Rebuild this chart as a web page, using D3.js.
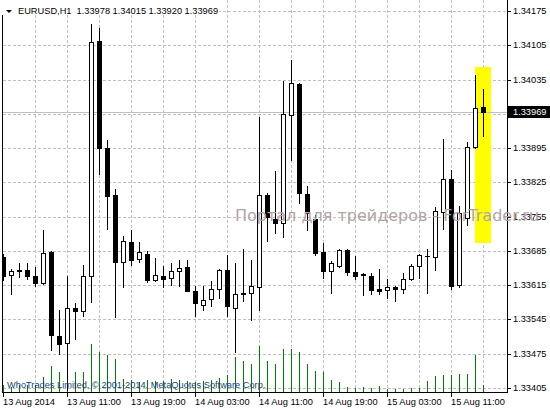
<!DOCTYPE html>
<html><head><meta charset="utf-8">
<script src="https://cdn.jsdelivr.net/npm/d3@7"></script>
<style>body{margin:0;background:#fff}svg{display:block}</style>
</head><body>
<svg id="c" width="550" height="410"></svg>
<script>
const symbol = "EURUSD,H1";
const times = [
"2014-08-13 03:00","2014-08-13 04:00","2014-08-13 05:00","2014-08-13 06:00","2014-08-13 07:00","2014-08-13 08:00","2014-08-13 09:00","2014-08-13 10:00","2014-08-13 11:00","2014-08-13 12:00",
"2014-08-13 13:00","2014-08-13 14:00","2014-08-13 15:00","2014-08-13 16:00","2014-08-13 17:00","2014-08-13 18:00","2014-08-13 19:00","2014-08-13 20:00","2014-08-13 21:00","2014-08-13 22:00",
"2014-08-13 23:00","2014-08-14 00:00","2014-08-14 01:00","2014-08-14 02:00","2014-08-14 03:00","2014-08-14 04:00","2014-08-14 05:00","2014-08-14 06:00","2014-08-14 07:00","2014-08-14 08:00",
"2014-08-14 09:00","2014-08-14 10:00","2014-08-14 11:00","2014-08-14 12:00","2014-08-14 13:00","2014-08-14 14:00","2014-08-14 15:00","2014-08-14 16:00","2014-08-14 17:00","2014-08-14 18:00",
"2014-08-14 19:00","2014-08-14 20:00","2014-08-14 21:00","2014-08-14 22:00","2014-08-14 23:00","2014-08-15 00:00","2014-08-15 01:00","2014-08-15 02:00","2014-08-15 03:00","2014-08-15 04:00",
"2014-08-15 05:00","2014-08-15 06:00","2014-08-15 07:00","2014-08-15 08:00","2014-08-15 09:00","2014-08-15 10:00","2014-08-15 11:00","2014-08-15 12:00","2014-08-15 13:00","2014-08-15 14:00",
"2014-08-15 15:00"];
const open = [
1.33673,1.33636,1.33644,1.33647,1.33634,1.33620,1.33682,1.33512,1.33497,1.33569,
1.33562,1.33633,1.34114,1.33896,1.33800,1.33662,1.33704,1.33668,1.33679,1.33625,
1.33634,1.33630,1.33643,1.33652,1.33604,1.33575,1.33587,1.33607,1.33647,1.33568,
1.33599,1.33599,1.33611,1.33800,1.33750,1.33741,1.33962,1.34026,1.33801,1.33750,
1.33683,1.33643,1.33655,1.33686,1.33641,1.33637,1.33634,1.33608,1.33606,1.33611,
1.33607,1.33628,1.33655,1.33675,1.33673,1.33764,1.33832,1.33616,1.33752,1.33897,
1.33978];
const high = [
1.33679,1.33648,1.33660,1.33661,1.33652,1.33728,1.33685,1.33564,1.33634,1.33579,
1.33657,1.34149,1.34140,1.33912,1.33812,1.33715,1.33727,1.33704,1.33685,1.33671,
1.33655,1.33660,1.33666,1.33667,1.33613,1.33613,1.33623,1.33649,1.33677,1.33660,
1.33689,1.33667,1.33959,1.33803,1.33849,1.34033,1.34075,1.34027,1.33817,1.33759,
1.33701,1.33665,1.33689,1.33689,1.33674,1.33640,1.33640,1.33649,1.33628,1.33614,
1.33639,1.33659,1.33679,1.33689,1.33774,1.33914,1.33851,1.33776,1.33908,1.34044,
1.34015];
const low = [
1.33626,1.33597,1.33632,1.33628,1.33614,1.33617,1.33483,1.33475,1.33400,1.33505,
1.33553,1.33580,1.33842,1.33730,1.33549,1.33611,1.33656,1.33662,1.33622,1.33623,
1.33611,1.33615,1.33614,1.33603,1.33553,1.33564,1.33573,1.33589,1.33553,1.33478,
1.33582,1.33543,1.33565,1.33706,1.33722,1.33714,1.33871,1.33783,1.33728,1.33677,
1.33630,1.33599,1.33653,1.33635,1.33628,1.33594,1.33596,1.33596,1.33589,1.33582,
1.33600,1.33625,1.33630,1.33600,1.33645,1.33730,1.33607,1.33611,1.33738,1.33896,
1.33920];
const close = [
1.33634,1.33643,1.33646,1.33633,1.33620,1.33681,1.33513,1.33495,1.33569,1.33562,
1.33634,1.34111,1.33895,1.33798,1.33662,1.33706,1.33666,1.33682,1.33625,1.33636,
1.33628,1.33643,1.33650,1.33604,1.33579,1.33584,1.33608,1.33645,1.33573,1.33597,
1.33598,1.33613,1.33800,1.33755,1.33742,1.33964,1.34028,1.33803,1.33762,1.33681,
1.33643,1.33660,1.33687,1.33641,1.33633,1.33635,1.33606,1.33604,1.33611,1.33608,
1.33628,1.33655,1.33677,1.33675,1.33766,1.33832,1.33613,1.33762,1.33898,1.33977,
1.33969];
const volume = [
280,200,280,280,280,600,1040,800,560,800,
800,1920,1600,1480,1320,520,480,400,480,440,
440,520,480,440,400,440,480,560,700,1400,
1240,1120,1840,1240,1120,1720,1720,1600,1120,840,
800,480,400,200,160,200,160,240,120,120,
120,160,160,440,640,680,680,720,720,1480,
280];
const priceTicks = [1.34175,1.34105,1.34035,1.33965,1.33895,1.33825,1.33755,1.33685,1.33615,1.33545,1.33475,1.33405];
const hiddenPriceTick = 1.33965;
const timeTicks = ["2014-08-13 03:00","2014-08-13 11:00","2014-08-13 19:00","2014-08-14 03:00","2014-08-14 11:00","2014-08-14 19:00","2014-08-15 03:00","2014-08-15 11:00"];
const timeTickLabels = ["13 Aug 2014","13 Aug 11:00","13 Aug 19:00","14 Aug 03:00","14 Aug 11:00","14 Aug 19:00","15 Aug 03:00","15 Aug 11:00"];
const currentPrice = 1.33969;
const highlightPrices = [1.34060, 1.33702];
const watermarkText = "Портал для трейдеров - ForTrader.ru";
const copyrightText = "WhoTrades Limited, \u00A9 2001-2014, MetaQuotes Software Corp.";

const parse = d3.timeParse("%Y-%m-%d %H:%M");
const T = times.map(parse);
const fmt = d3.format(".5f");
const FONT = "'Liberation Sans', Arial, sans-serif";
const FS = 9.25;

const x = d3.scaleTime().domain([T[0], T[T.length - 1]]).rangeRound([3, 483]);
const y = d3.scaleLinear().domain([1.33405, 1.34175]).rangeRound([388, 11]);
const yVol = d3.scaleLinear().domain([0, 2000]).rangeRound([392, 342]);

const svg = d3.select("#c");
svg.append("rect").attr("width", 550).attr("height", 410).attr("fill", "#fff");
svg.append("clipPath").attr("id", "pc").append("rect")
  .attr("x", 3).attr("y", 0).attr("width", 504).attr("height", 392);

// grid
const grid = svg.append("g").attr("stroke", "#c0c0c0").attr("stroke-width", 1).attr("stroke-dasharray", "3,2");
priceTicks.forEach(p => {
  grid.append("line").attr("x1", 3).attr("x2", 507).attr("y1", y(p) + 0.5).attr("y2", y(p) + 0.5);
});
T.forEach((t, i) => {
  if (i > 0 && i % 4 === 0) {
    grid.append("line").attr("x1", x(t) + 0.5).attr("x2", x(t) + 0.5).attr("y1", 0).attr("y2", 392);
  }
});

// highlight
const last = T[T.length - 1];
svg.append("rect")
  .attr("x", x(last) - 8).attr("width", 16)
  .attr("y", y(highlightPrices[0])).attr("height", y(highlightPrices[1]) - y(highlightPrices[0]))
  .attr("fill", "#ffff00");

// current price line
svg.append("line").attr("x1", 3).attr("x2", 507)
  .attr("y1", y(currentPrice) + 0.5).attr("y2", y(currentPrice) + 0.5)
  .attr("stroke", "#c0c0c0");

// volumes
const vol = svg.append("g").attr("clip-path", "url(#pc)").attr("stroke", "#008000");
volume.forEach((v, i) => {
  vol.append("line").attr("x1", x(T[i]) + 0.5).attr("x2", x(T[i]) + 0.5)
    .attr("y1", yVol(0)).attr("y2", yVol(v));
});

// candles
const cg = svg.append("g").attr("clip-path", "url(#pc)");
T.forEach((t, i) => {
  const cx = x(t) + 0.5;
  const o = open[i], c = close[i];
  cg.append("line").attr("x1", cx).attr("x2", cx)
    .attr("y1", y(high[i])).attr("y2", y(low[i]) + 1).attr("stroke", "#000");
  const top = y(Math.max(o, c)), bot = y(Math.min(o, c));
  if (bot - top < 1) {
    cg.append("line").attr("x1", cx - 2.5).attr("x2", cx + 2.5)
      .attr("y1", top + 0.5).attr("y2", top + 0.5).attr("stroke", "#000");
  } else {
    cg.append("rect").attr("x", cx - 2).attr("y", top + 0.5)
      .attr("width", 4).attr("height", bot - top)
      .attr("fill", c > o ? "#fff" : "#000").attr("stroke", "#000");
  }
});

// frame
const frame = svg.append("g").attr("stroke", "#000");
frame.append("line").attr("x1", 2.5).attr("x2", 2.5).attr("y1", 0).attr("y2", 393);
frame.append("line").attr("x1", 507.5).attr("x2", 507.5).attr("y1", 0).attr("y2", 393);
frame.append("line").attr("x1", 2).attr("x2", 508).attr("y1", 392.5).attr("y2", 392.5);

// axes
const yAxis = d3.axisRight(y).tickValues(priceTicks).tickSize(4).tickSizeOuter(0).tickPadding(2)
  .tickFormat(d => d === hiddenPriceTick ? "" : fmt(d));
const gy = svg.append("g").attr("transform", "translate(507,0)").call(yAxis);
gy.select(".domain").remove();
gy.attr("font-family", FONT).attr("font-size", FS);
gy.selectAll("line").attr("stroke", "#000");
gy.selectAll("text").attr("fill", "#000");

const tickDates = timeTicks.map(parse);
const xAxis = d3.axisBottom(x).tickValues(tickDates).tickSize(5).tickSizeOuter(0).tickPadding(1.5)
  .tickFormat((d, i) => timeTickLabels[i]);
const gx = svg.append("g").attr("transform", "translate(0,392)").call(xAxis);
gx.select(".domain").remove();
gx.attr("font-family", FONT).attr("font-size", FS);
gx.selectAll("line").attr("stroke", "#000");
gx.selectAll("text").attr("text-anchor", "start").attr("x", -0.5).attr("fill", "#000");

// watermark (drawn over the chart, as in the reference)
svg.append("text").attr("x", 235).attr("y", 221)
  .attr("font-family", "'DejaVu Sans', sans-serif").attr("font-size", 16)
  .attr("fill", "#b3a4a4").text(watermarkText);

// copyright
svg.append("text").attr("x", 7).attr("y", 388)
  .attr("font-family", FONT).attr("font-size", FS).attr("fill", "#223d7c")
  .text(copyrightText);

// title
svg.append("rect").attr("x", 0).attr("y", 0).attr("width", 219).attr("height", 15).attr("fill", "#fff");
svg.append("path").attr("d", "M6,10H12L9,13Z").attr("fill", "#000");
const n = T.length - 1;
svg.append("text").attr("x", 18).attr("y", 14)
  .attr("font-family", FONT).attr("font-size", FS).attr("fill", "#000")
  .style("white-space", "pre")
  .text(symbol + "  " + [open[n], high[n], low[n], close[n]].map(fmt).join(" "));

// current price label
svg.append("rect").attr("x", 508).attr("y", y(currentPrice) - 6).attr("width", 42).attr("height", 12).attr("fill", "#000");
svg.append("text").attr("x", 513).attr("y", y(currentPrice) + 0.5).attr("dy", "0.32em")
  .attr("font-family", FONT).attr("font-size", FS).attr("fill", "#fff").text(fmt(currentPrice));
</script>
</body></html>
